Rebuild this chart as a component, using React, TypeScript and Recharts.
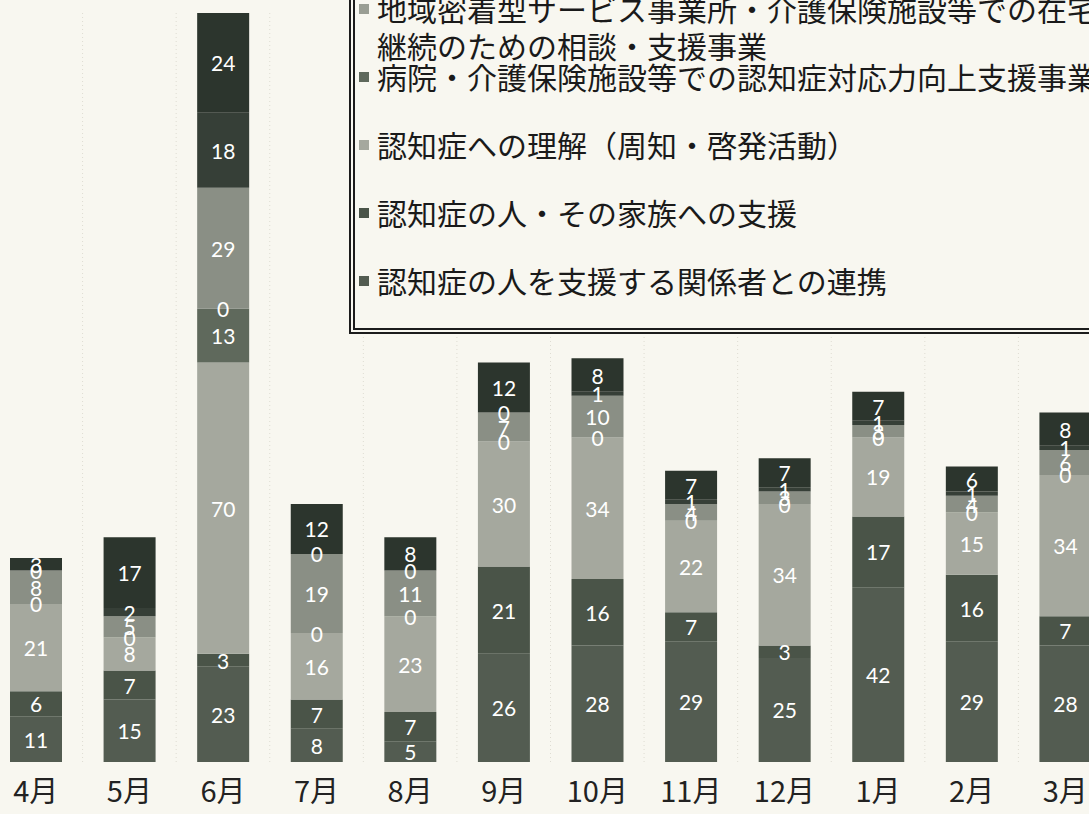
import React from 'react';
import { BarChart, Bar, XAxis, YAxis, LabelList, Legend, CartesianGrid } from 'recharts';

const months = ['4月', '5月', '6月', '7月', '8月', '9月', '10月', '11月', '12月', '1月', '2月', '3月'];

// stack order: bottom -> top
const renkei = [11, 15, 23, 8, 5, 26, 28, 29, 25, 42, 29, 28];
const kazoku = [6, 7, 3, 7, 7, 21, 16, 7, 3, 17, 16, 7];
const rikai = [21, 8, 70, 16, 23, 30, 34, 22, 34, 19, 15, 34];
const byoin = [null, null, 13, null, null, null, null, null, null, null, null, null];
const chiiki = [0, 0, 0, 0, 0, 0, 0, 0, 0, 0, 0, 0];
const series6 = [8, 5, 29, 19, 11, 7, 10, 4, 3, 3, 4, 6];
const series7 = [0, 2, 18, 0, 0, 0, 1, 1, 1, 1, 1, 1];
const series8 = [3, 17, 24, 12, 8, 12, 8, 7, 7, 7, 6, 8];

const seriesNames = [
  '認知症の人を支援する関係者との連携',
  '認知症の人・その家族への支援',
  '認知症への理解（周知・啓発活動）',
  '病院・介護保険施設等での認知症対応力向上支援事業',
  '地域密着型サービス事業所・介護保険施設等での在宅生活継続のための相談・支援事業',
  '系列6',
  '系列7',
  '系列8',
];
const seriesKeys = ['s1', 's2', 's3', 's4', 's5', 's6', 's7', 's8'];
const seriesValues = [renkei, kazoku, rikai, byoin, chiiki, series6, series7, series8];
const seriesColors = ['#535c51', '#4a5448', '#a5a89e', '#5f695c', '#9a9e94', '#8a8f85', '#363f37', '#2c352d'];

const data = months.map((m, i) => {
  const row: any = { month: m };
  seriesKeys.forEach((k, j) => {
    row[k] = seriesValues[j][i];
  });
  return row;
});

const BG = '#f8f7f0';

// Labels for every segment of one column, placed from the top rect that the library drew
const renderColumnLabels = (props: any) => {
  const { x, y, width, height, value, index } = props;
  const row = data[index];
  if (!row || !value) return null;
  const unit = Number(height) / Number(value);
  const lastKey = seriesKeys[seriesKeys.length - 1];
  let below = 0;
  seriesKeys.forEach((k) => {
    if (k !== lastKey) below += row[k] || 0;
  });
  const baseline = Number(y) + Number(height) + below * unit;
  const cx = Number(x) + Number(width) / 2;
  let cum = 0;
  const out: any[] = [];
  seriesKeys.forEach((k, j) => {
    const v = row[k];
    if (v === null || v === undefined) return;
    const cy = baseline - (cum + v / 2) * unit;
    cum += v;
    out.push(
      <text
        key={j}
        x={cx}
        y={cy}
        fill="#ffffff"
        textAnchor="middle"
        dominantBaseline="central"
        fontSize={21}
        fontFamily="Lato, 'Liberation Sans', sans-serif"
      >
        {v}
      </text>
    );
  });
  return <g>{out}</g>;
};

const renderTick = (props: any) => {
  const { x, y, payload } = props;
  return (
    <text
      x={x}
      y={Number(y) + 27}
      textAnchor="middle"
      dominantBaseline="central"
      fontSize={29}
      fill="#222"
      fontFamily="'Noto Sans CJK JP', sans-serif"
    >
      {payload.value}
    </text>
  );
};

const renderLegend = () => {
  const items = seriesNames.map((n, j) => ({ value: n, color: seriesColors[j] })).reverse();
  return (
    <div
      style={{
        border: '6px double #1c1c1c',
        background: BG,
        boxSizing: 'border-box',
        width: 830,
        padding: '10px 0 13px 4px',
        fontFamily: "'Noto Sans CJK JP', sans-serif",
        color: '#1a1a1a',
      }}
    >
      {items.map((it: any, i: number) => (
        <div
          key={i}
          style={{
            height: 68,
            display: 'flex',
            alignItems: 'flex-start',
            paddingTop: 15,
            boxSizing: 'border-box',
          }}
        >
          <span
            style={{
              display: 'inline-block',
              width: 10,
              height: 10,
              background: it.color,
              marginTop: 14,
              marginRight: 8,
              flex: '0 0 auto',
            }}
          />
          <span style={{ fontSize: 30, lineHeight: '37px', width: 784, display: 'inline-block' }}>{it.value}</span>
        </div>
      ))}
    </div>
  );
};

export default function App() {
  return (
    <div
      style={{
        position: 'fixed',
        left: 0,
        top: 0,
        width: 1089,
        height: 814,
        overflow: 'hidden',
        background: BG,
      }}
    >
      <div style={{ position: 'absolute', left: -11, top: 0 }}>
        <BarChart
          width={1123}
          height={814}
          data={data}
          margin={{ top: 13, right: 0, bottom: 0, left: 0 }}
        >
          <CartesianGrid
            horizontal={false}
            stroke="#dedcd2"
            strokeDasharray="1 3"
            verticalCoordinatesGenerator={({ offset }: any) =>
              months.map((_, i) => offset.left + (i * offset.width) / months.length)
            }
          />
          <XAxis
            dataKey="month"
            axisLine={false}
            tickLine={false}
            tickSize={0}
            tickMargin={0}
            height={52}
            interval={0}
            tick={renderTick}
          />
          <YAxis hide domain={[0, 180]} />
          <Legend
            layout="vertical"
            align="center"
            verticalAlign="middle"
            content={renderLegend}
            wrapperStyle={{ top: -245, left: 360, width: 830, height: 'auto' }}
          />
          {seriesKeys.map((k, j) => (
            <Bar
              key={k}
              dataKey={k}
              name={seriesNames[j]}
              stackId="a"
              fill={seriesColors[j]}
              barSize={52}
              isAnimationActive={false}
            >
              {j === seriesKeys.length - 1 ? <LabelList dataKey={k} content={renderColumnLabels} /> : null}
            </Bar>
          ))}
        </BarChart>
      </div>
    </div>
  );
}
